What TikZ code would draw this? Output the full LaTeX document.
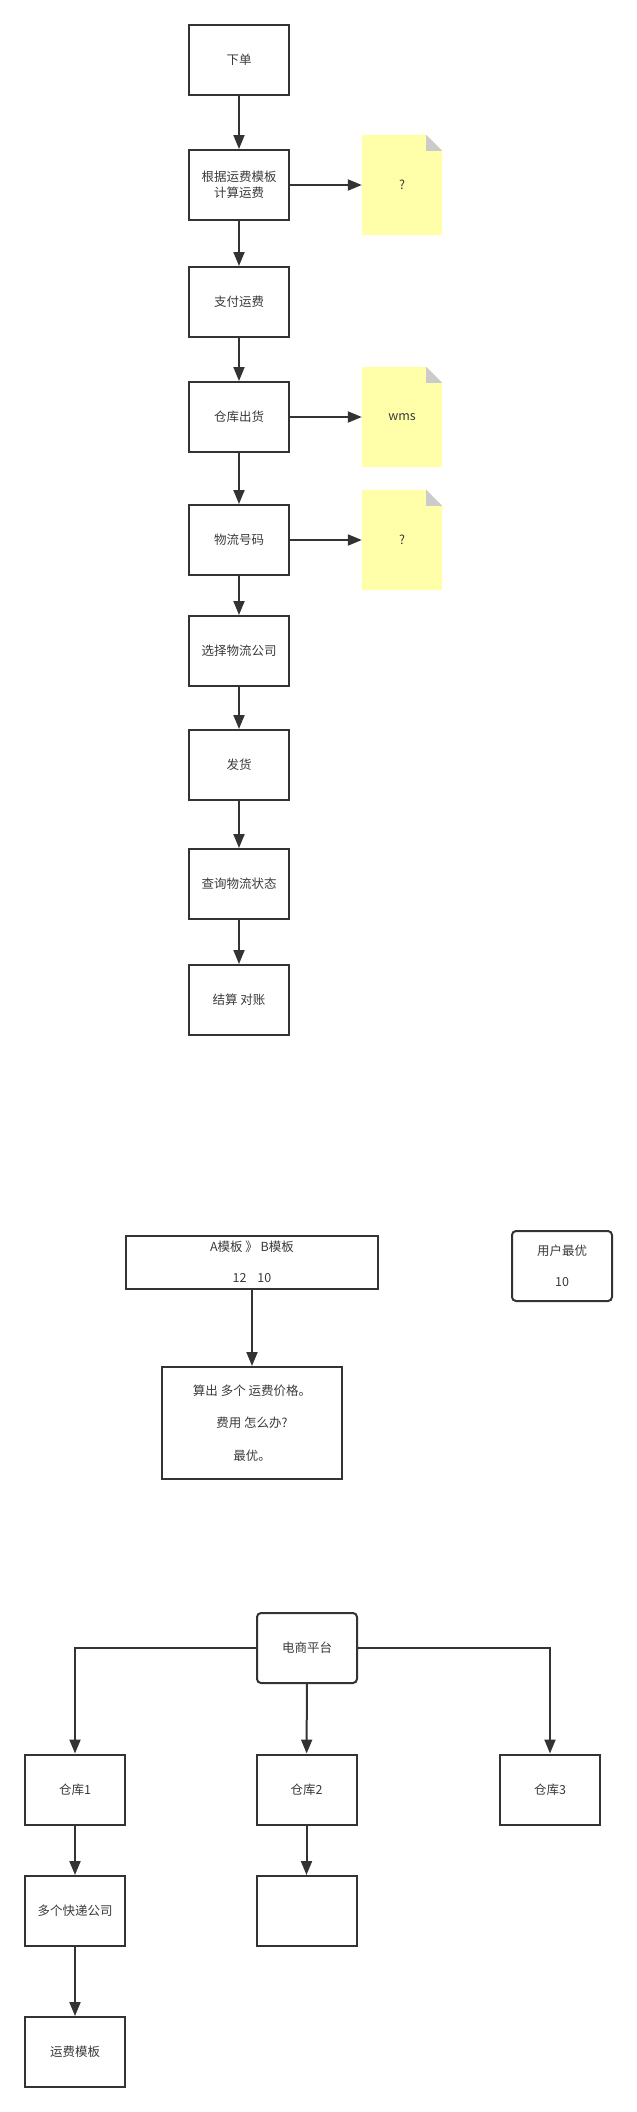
\documentclass[tikz,border=0pt]{standalone}
\usepackage{fontspec}
\setmainfont{Noto Sans CJK SC}
\usetikzlibrary{arrows.meta,backgrounds}
\definecolor{lc}{HTML}{333333}
\definecolor{tc}{HTML}{3A3A3A}
\definecolor{notey}{HTML}{FFFFAA}
\definecolor{foldg}{HTML}{CBCBCB}
\tikzset{
  box/.style={draw=lc, line width=2pt, minimum width=100pt, minimum height=70pt,
    inner sep=0pt, text=tc, align=center, font=\fontsize{12.5pt}{16pt}\selectfont},
  rbox/.style={box, rounded corners=4pt},
  notebox/.style={minimum width=80pt, minimum height=100pt, inner sep=0pt,
    text=tc, font=\fontsize{12.5pt}{16pt}\selectfont},
  arr/.style={draw=lc, line width=2pt, -{Triangle[length=14pt,width=11pt]}}
}
\newcommand{\foldnote}[1]{%
  \begin{pgfonlayer}{background}
  \fill[notey] (#1.south west) -- (#1.north west) -- ([xshift=-16pt]#1.north east)
    -- ([yshift=-16pt]#1.north east) -- (#1.south east) -- cycle;
  \fill[foldg] ([xshift=-16pt]#1.north east) -- ([xshift=-16pt,yshift=-16pt]#1.north east)
    -- ([yshift=-16pt]#1.north east) -- cycle;
  \end{pgfonlayer}}
\begin{document}
\begin{tikzpicture}[x=1pt,y=-1pt]
\useasboundingbox (0,0) rectangle (637,2112);
% section 1
\node[box] (s1) at (239,60) {下单};
\node[box] (s2) at (239,185) {根据运费模板\\计算运费};
\node[box] (s3) at (239,302) {支付运费};
\node[box] (s4) at (239,417) {仓库出货};
\node[box] (s5) at (239,540) {物流号码};
\node[box] (s6) at (239,651) {选择物流公司};
\node[box] (s7) at (239,765) {发货};
\node[box] (s8) at (239,884) {查询物流状态};
\node[box] (s9) at (239,1000) {结算 对账};
\node[notebox] (n1) at (402,185) {?};
\node[notebox] (n2) at (402,417) {wms};
\node[notebox] (n3) at (402,540) {?};
\foldnote{n1}\foldnote{n2}\foldnote{n3}
\draw[arr] (s1) -- (s2);
\draw[arr] (s2) -- (s3);
\draw[arr] (s3) -- (s4);
\draw[arr] (s4) -- (s5);
\draw[arr] (s5) -- (s6);
\draw[arr] (s6) -- (s7);
\draw[arr] (s7) -- (s8);
\draw[arr] (s8) -- (s9);
\draw[arr] (s2) -- (n1);
\draw[arr] (s4) -- (n2);
\draw[arr] (s5) -- (n3);
% section 2
\node[box, minimum width=252pt, minimum height=53pt, font=\fontsize{12.5pt}{15.5pt}\selectfont] (ab) at (252,1262) {A模板 》 B模板\\[15.5pt]12\hspace{11pt}10};
\node[box, minimum width=180pt, minimum height=112pt, font=\fontsize{12.5pt}{16.3pt}\selectfont] (calc) at (252,1423) {算出 多个 运费价格。\\[16.3pt]费用 怎么办?\\[16.3pt]最优。};
\node[rbox, font=\fontsize{12.5pt}{15.5pt}\selectfont] (user) at (562,1266) {用户最优\\[15.5pt]10};
\draw[arr] (ab) -- (calc);
% section 3
\node[rbox] (ds) at (307,1648) {电商平台};
\node[box] (c1) at (75,1789.5) {仓库1};
\node[box] (c2) at (306.5,1789.5) {仓库2};
\node[box] (c3) at (550,1789.5) {仓库3};
\node[box] (kd) at (75,1911) {多个快递公司};
\node[box] (em) at (306.5,1911) {};
\node[box] (yf) at (75,2052) {运费模板};
\draw[arr] (ds.west) -| (c1.north);
\draw[arr] (ds.east) -| (c3.north);
\draw[arr] (ds) -- (c2);
\draw[arr] (c1) -- (kd);
\draw[arr] (c2) -- (em);
\draw[arr] (kd) -- (yf);
\end{tikzpicture}
\end{document}
